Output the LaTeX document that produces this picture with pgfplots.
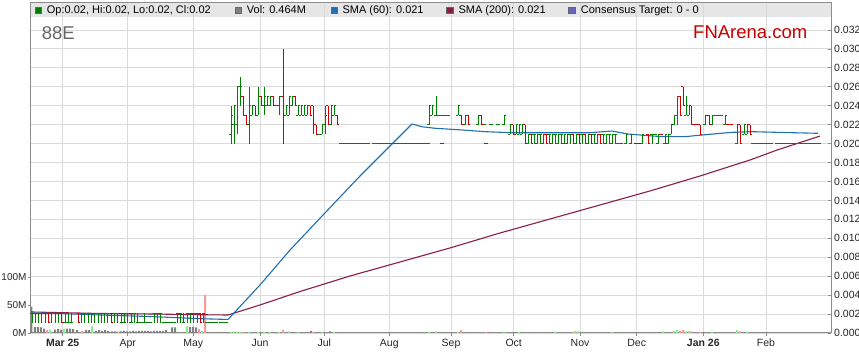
\documentclass[border=0pt]{standalone}
\usepackage{pgfplots}
\pgfplotsset{compat=1.18}
\usepackage{pgfplotstable}
\usepackage{fontspec}
\setmainfont{Liberation Sans}

\definecolor{upc}{HTML}{008000}
\definecolor{dnc}{HTML}{D00000}
\definecolor{smab}{HTML}{1F6FB2}
\definecolor{smam}{HTML}{8A1E40}
\definecolor{volg}{HTML}{808080}
\definecolor{voll}{HTML}{8EE88E}
\definecolor{volp}{HTML}{F59A9A}
\definecolor{gridc}{HTML}{DADADA}
\definecolor{framec}{HTML}{8C8C8C}
\definecolor{bandc}{HTML}{E6E6E6}
\definecolor{fnred}{HTML}{C80000}
\definecolor{titlec}{HTML}{666666}

\pgfdeclareplotmark{tickL}{\pgfpathmoveto{\pgfqpoint{-1.6pt}{0pt}}\pgfpathlineto{\pgfqpoint{0pt}{0pt}}\pgfusepathqstroke}
\pgfdeclareplotmark{tickR}{\pgfpathmoveto{\pgfqpoint{0pt}{0pt}}\pgfpathlineto{\pgfqpoint{1.6pt}{0pt}}\pgfusepathqstroke}
\pgfdeclareplotmark{nomark}{}

% OHLC, green (up) bars
\pgfplotstableread{
x o h l c
32.0 0.0021 0.0021 0.0011 0.0021
35.3 0.0021 0.0021 0.0011 0.0021
38.6 0.0021 0.0021 0.0011 0.0021
41.9 0.0021 0.0021 0.0011 0.0021
45.2 0.0021 0.0021 0.0011 0.0021
51.8 0.0021 0.0021 0.0011 0.0021
55.1 0.0021 0.0021 0.0011 0.0021
58.4 0.0021 0.0021 0.0011 0.0021
65.0 0.0011 0.0021 0.0011 0.0011
68.3 0.0011 0.0021 0.0011 0.0011
71.6 0.0011 0.0021 0.0011 0.0011
81.5 0.0021 0.0021 0.0011 0.0021
84.8 0.0021 0.0021 0.0011 0.0021
88.1 0.0021 0.0021 0.0011 0.0021
91.4 0.0021 0.0021 0.0011 0.0021
94.7 0.0021 0.0021 0.0011 0.0021
98.0 0.0021 0.0021 0.0011 0.0021
101.3 0.0021 0.0021 0.0011 0.0021
104.6 0.0021 0.0021 0.0011 0.0021
107.9 0.0021 0.0021 0.0011 0.0021
114.5 0.0021 0.0021 0.0011 0.0021
117.8 0.0021 0.0021 0.0011 0.0021
121.1 0.0011 0.0021 0.0011 0.0011
124.4 0.0011 0.0021 0.0011 0.0011
127.7 0.0021 0.0021 0.0011 0.0021
131.0 0.0011 0.0021 0.0011 0.0011
134.3 0.0021 0.0021 0.0011 0.0021
137.6 0.0011 0.0021 0.0011 0.0011
140.9 0.0011 0.0011 0.0011 0.0011
144.2 0.0011 0.0021 0.0011 0.0011
147.5 0.0011 0.0011 0.0011 0.0011
150.8 0.0011 0.0011 0.0011 0.0011
154.1 0.0021 0.0021 0.0011 0.0021
157.4 0.0021 0.0021 0.0011 0.0021
160.7 0.0021 0.0021 0.0011 0.0021
164.0 0.0011 0.0011 0.0011 0.0011
167.3 0.0011 0.0011 0.0011 0.0011
170.6 0.0011 0.0011 0.0011 0.0011
173.9 0.0011 0.0011 0.0011 0.0011
177.2 0.0021 0.0021 0.0011 0.0021
180.5 0.0021 0.0021 0.0011 0.0021
183.8 0.0011 0.0021 0.0011 0.0011
187.1 0.0021 0.0021 0.0011 0.0021
190.4 0.0021 0.0021 0.0011 0.0021
193.7 0.0021 0.0021 0.0011 0.0021
197.0 0.0021 0.0021 0.0011 0.0021
203.6 0.0021 0.0021 0.0011 0.0021
206.9 0.0011 0.0011 0.0011 0.0011
210.2 0.0011 0.0011 0.0011 0.0011
213.5 0.0011 0.0011 0.0011 0.0011
216.8 0.0011 0.0011 0.0011 0.0011
220.1 0.0011 0.0011 0.0011 0.0011
223.4 0.0011 0.0011 0.0011 0.0011
226.7 0.0011 0.0011 0.0011 0.0011
231 0.021 0.024 0.020 0.023
234 0.022 0.024 0.020 0.024
237 0.022 0.026 0.021 0.026
240 0.026 0.027 0.024 0.026
249 0.022 0.026 0.020 0.024
252 0.023 0.024 0.023 0.024
258 0.023 0.026 0.023 0.025
264 0.024 0.026 0.023 0.025
267 0.024 0.025 0.024 0.025
270 0.024 0.025 0.024 0.025
279 0.024 0.025 0.023 0.025
286 0.023 0.024 0.023 0.024
289 0.023 0.025 0.023 0.025
292 0.024 0.025 0.024 0.025
298 0.023 0.024 0.023 0.024
301 0.023 0.024 0.023 0.024
304 0.023 0.024 0.023 0.024
307 0.023 0.024 0.023 0.024
319 0.021 0.021 0.021 0.021
322 0.021 0.022 0.021 0.022
325 0.022 0.024 0.021 0.023
331 0.022 0.024 0.022 0.024
334 0.023 0.024 0.023 0.024
341 0.020 0.020 0.020 0.020
344 0.020 0.020 0.020 0.020
347 0.020 0.020 0.020 0.020
350 0.020 0.020 0.020 0.020
353 0.020 0.020 0.020 0.020
356 0.020 0.020 0.020 0.020
359 0.020 0.020 0.020 0.020
362 0.020 0.020 0.020 0.020
365 0.020 0.020 0.020 0.020
368 0.020 0.020 0.020 0.020
374 0.020 0.020 0.020 0.020
377 0.020 0.020 0.020 0.020
380 0.020 0.020 0.020 0.020
383 0.020 0.020 0.020 0.020
386 0.020 0.020 0.020 0.020
389 0.020 0.020 0.020 0.020
392 0.020 0.020 0.020 0.020
395 0.020 0.020 0.020 0.020
398 0.020 0.020 0.020 0.020
401 0.020 0.020 0.020 0.020
404 0.020 0.020 0.020 0.020
407 0.020 0.020 0.020 0.020
410 0.020 0.020 0.020 0.020
413 0.020 0.020 0.020 0.020
416 0.020 0.020 0.020 0.020
419 0.020 0.020 0.020 0.020
422 0.020 0.020 0.020 0.020
425 0.020 0.020 0.020 0.020
428 0.020 0.020 0.020 0.020
429 0.022 0.024 0.022 0.024
432 0.023 0.024 0.023 0.024
436 0.023 0.025 0.023 0.023
439 0.023 0.023 0.023 0.023
442 0.023 0.023 0.023 0.023
445 0.023 0.023 0.023 0.023
448 0.023 0.023 0.023 0.023
458 0.023 0.024 0.023 0.024
465 0.022 0.023 0.022 0.023
478 0.022 0.023 0.022 0.023
484 0.022 0.022 0.022 0.022
491 0.022 0.022 0.022 0.022
498 0.022 0.022 0.022 0.022
504 0.022 0.023 0.022 0.023
510 0.021 0.022 0.021 0.022
516 0.021 0.022 0.021 0.022
519 0.021 0.022 0.021 0.022
522 0.021 0.022 0.021 0.022
528 0.020 0.021 0.020 0.021
534 0.021 0.021 0.020 0.021
537 0.020 0.021 0.020 0.021
540 0.021 0.021 0.020 0.021
543 0.020 0.021 0.020 0.021
549 0.021 0.021 0.020 0.021
552 0.020 0.021 0.020 0.021
555 0.021 0.021 0.020 0.021
558 0.020 0.021 0.020 0.021
561 0.021 0.021 0.020 0.021
564 0.020 0.021 0.020 0.021
567 0.020 0.021 0.020 0.021
570 0.021 0.021 0.020 0.021
576 0.020 0.021 0.020 0.021
582 0.021 0.021 0.020 0.021
588 0.020 0.021 0.020 0.021
594 0.021 0.021 0.020 0.021
597 0.020 0.021 0.020 0.021
603 0.021 0.021 0.020 0.021
606 0.020 0.021 0.020 0.021
609 0.021 0.021 0.020 0.021
612 0.020 0.021 0.020 0.021
615 0.021 0.021 0.020 0.021
618 0.020 0.020 0.020 0.020
621 0.020 0.020 0.020 0.020
626 0.020 0.021 0.020 0.021
631 0.020 0.021 0.020 0.021
642 0.020 0.021 0.020 0.021
652 0.021 0.021 0.020 0.021
655 0.021 0.021 0.021 0.021
658 0.020 0.021 0.020 0.021
665 0.020 0.021 0.020 0.021
668 0.020 0.021 0.020 0.021
671 0.021 0.022 0.021 0.022
674 0.022 0.023 0.022 0.023
677 0.023 0.025 0.022 0.025
686 0.023 0.025 0.023 0.024
689 0.023 0.024 0.023 0.024
705 0.022 0.023 0.022 0.023
712 0.022 0.023 0.022 0.023
715 0.023 0.023 0.023 0.023
718 0.023 0.023 0.023 0.023
721 0.023 0.023 0.023 0.023
725 0.022 0.023 0.022 0.023
737 0.020 0.022 0.020 0.022
744 0.021 0.022 0.021 0.022
747 0.021 0.022 0.021 0.022
753 0.020 0.020 0.020 0.020
756 0.020 0.020 0.020 0.020
759 0.020 0.020 0.020 0.020
762 0.020 0.020 0.020 0.020
765 0.020 0.020 0.020 0.020
768 0.020 0.020 0.020 0.020
771 0.020 0.020 0.020 0.020
777 0.020 0.020 0.020 0.020
780 0.020 0.020 0.020 0.020
783 0.020 0.020 0.020 0.020
786 0.020 0.020 0.020 0.020
789 0.020 0.020 0.020 0.020
792 0.020 0.020 0.020 0.020
795 0.020 0.020 0.020 0.020
801 0.020 0.020 0.020 0.020
804 0.020 0.020 0.020 0.020
807 0.020 0.020 0.020 0.020
810 0.020 0.020 0.020 0.020
813 0.020 0.020 0.020 0.020
816 0.020 0.020 0.020 0.020
819 0.020 0.020 0.020 0.020
}\upbars

% OHLC, red (down) bars
\pgfplotstableread{
x o h l c
48.5 0.0021 0.0021 0.0011 0.0011
61.7 0.0021 0.0021 0.0011 0.0011
78.2 0.0021 0.0021 0.0011 0.0011
111.2 0.0021 0.0021 0.0011 0.0011
200.3 0.0021 0.0021 0.0011 0.0011
243 0.025 0.025 0.023 0.023
246 0.023 0.023 0.022 0.022
255 0.024 0.024 0.023 0.023
261 0.025 0.025 0.024 0.024
273 0.025 0.025 0.024 0.024
276 0.024 0.024 0.024 0.024
283 0.025 0.030 0.020 0.023
295 0.025 0.025 0.024 0.024
310 0.024 0.024 0.023 0.023
313 0.024 0.024 0.021 0.022
316 0.022 0.022 0.021 0.021
328 0.024 0.024 0.022 0.022
337 0.023 0.023 0.022 0.022
442 0.020 0.020 0.020 0.020
461 0.023 0.023 0.022 0.022
468 0.023 0.023 0.022 0.022
481 0.023 0.023 0.022 0.022
486 0.020 0.020 0.020 0.020
513 0.022 0.022 0.021 0.021
525 0.022 0.022 0.020 0.020
531 0.021 0.021 0.020 0.020
546 0.021 0.021 0.020 0.020
573 0.021 0.021 0.020 0.020
579 0.021 0.021 0.020 0.020
585 0.021 0.021 0.020 0.020
591 0.021 0.021 0.020 0.020
600 0.021 0.021 0.020 0.020
636 0.020 0.020 0.020 0.020
639 0.020 0.020 0.020 0.020
648 0.021 0.021 0.020 0.020
661 0.021 0.021 0.021 0.021
680 0.025 0.025 0.023 0.023
683 0.026 0.026 0.024 0.024
691 0.024 0.024 0.022 0.022
694 0.022 0.022 0.022 0.022
697 0.022 0.022 0.022 0.022
700 0.022 0.022 0.021 0.021
709 0.023 0.023 0.022 0.022
728 0.022 0.022 0.022 0.022
731 0.022 0.022 0.022 0.022
740 0.022 0.022 0.020 0.020
750 0.022 0.022 0.021 0.021
}\dnbars

% volume (millions)
\pgfplotstableread{
x v
31.5 47
35 11
38 11
41 10
44 8
55 6
58 7
61 6
67 8
70 8
73 7
77 5
86 5
89 5
96 4
99 5
102 4
105 5
108 4
112 3
115 3
121 3
124 4
127 3
130 3
133 4
136 3
139 4
142 4
145 4
148 4
151 3
154 4
157 4
160 4
163 4
166 5
172 10
175 10
190 11
193 11
196 10
311 4
330 3
}\volgray
\pgfplotstableread{
x v
50 6
64 8
92 12
187 12
202 4
231 2
234 3
237 2
240 1.5
249 2
258 1.5
264 2
270 1.5
279 1.5
289 3
298 1.5
322 1.5
334 1.5
429 2
436 3
458 2
504 1.5
519 1.5
555 2
575 4
578 3
612 1.5
663 3
674 4
677 5
686 3
689 4
712 2
737 5
747 2
}\volgreen
\pgfplotstableread{
x v
47 5
82 4
118 3
199 7
205 68
243 1.5
283 5
313 2
461 5
486 2
573 2
680 4
683 5
691 3
700 2
740 3
}\volpink

% moving averages
\pgfplotstableread{
x y
31 0.00211
60 0.00206
100 0.00190
150 0.00174
200 0.00151
228 0.00143
260 0.00507
290 0.00876
324 0.01257
360 0.01658
390 0.01975
412 0.02207
422 0.02178
435 0.02162
462 0.02144
485 0.02126
512 0.02115
535 0.02115
590 0.02115
612 0.02133
628 0.02101
662 0.02073
685 0.02073
702 0.02091
732 0.02119
752 0.02126
785 0.02117
818 0.02109
}\smasixty
\pgfplotstableread{
x y
31 0.00222
100 0.00206
150 0.00201
200 0.00193
228 0.00190
260 0.00296
300 0.00438
350 0.00602
400 0.00750
450 0.00898
500 0.01056
550 0.01204
600 0.01352
650 0.01500
700 0.01658
750 0.01827
777 0.01932
820 0.02080
}\smatwohundred

\pgfplotsset{
  base/.style={at={(31pt,30pt)}, anchor=south west, scale only axis,
    width=800pt, height=330pt, xmin=31, xmax=831},
  hl/.style={#1, line width=1pt, only marks, mark=nomark,
    error bars/.cd, y dir=plus, y explicit, error mark=none,
    error bar style={draw=#1, line width=1pt}},
}

\begin{document}
\begin{tikzpicture}[x=1pt,y=1pt]
\path[use as bounding box] (0,0) rectangle (859,363);
\fill[bandc] (31,346) rectangle (831,360);

% grid, price ticks, date ticks
\begin{axis}[base, ymin=0, ymax=0.03485,
  scaled y ticks=false, scaled x ticks=false,
  axis line style={framec, line width=1pt},
  grid=major, grid style={gridc, line width=0.9pt},
  xtick={62.7,127.7,193.3,260,324.3,389.3,451,513.7,580,636.7,703.3,766},
  xticklabels={\textbf{Mar 25},Apr,May,Jun,Jul,Aug,Sep,Oct,Nov,Dec,\textbf{Jan 26},Feb},
  ytick={0,0.002,0.004,0.006,0.008,0.010,0.012,0.014,0.016,0.018,0.020,0.022,0.024,0.026,0.028,0.030,0.032},
  yticklabels={0.000,0.002,0.004,0.006,0.008,0.010,0.012,0.014,0.016,0.018,0.020,0.022,0.024,0.026,0.028,0.030,0.032},
  xtick pos=left, ytick pos=right, yticklabel pos=right,
  xtick align=outside, ytick align=inside, major tick length=3pt,
  tick style={framec, line width=0.8pt},
  tick label style={font=\fontsize{10.5}{12}\selectfont, text=black!85},
  yticklabel style={anchor=west, inner sep=0pt, xshift=3pt},
  xticklabel style={anchor=north, inner sep=0pt, yshift=-3pt},
]
\end{axis}

% volume
\begin{axis}[base, ymin=0, ymax=589.3, hide x axis, axis y line*=left,
  scaled y ticks=false,
  axis line style={framec, line width=1pt},
  ytick={0,50,100}, yticklabels={0M,50M,100M},
  ytick align=outside, major tick length=3pt,
  tick style={framec, line width=0.8pt},
  yticklabel style={font=\fontsize{10}{12}\selectfont, text=black!85, anchor=east, inner sep=0pt, xshift=-1.3pt},
]
\addplot[ybar, bar width=2pt, bar shift=0pt, fill=volg, draw=none] table[x=x,y=v]{\volgray};
\addplot[ybar, bar width=2pt, bar shift=0pt, fill=voll, draw=none] table[x=x,y=v]{\volgreen};
\addplot[ybar, bar width=2pt, bar shift=0pt, fill=volp, draw=none] table[x=x,y=v]{\volpink};
\end{axis}

% prices
\begin{axis}[base, ymin=0, ymax=0.03485, hide axis]
\addplot[smam, line width=1.1pt] table[x=x,y=y]{\smatwohundred};
\addplot[smab, line width=1.1pt] table[x=x,y=y]{\smasixty};
\addplot[hl=upc] table[x=x, y=l, y error plus expr=\thisrow{h}-\thisrow{l}]{\upbars};
\addplot[upc, only marks, mark=tickL, line width=1pt] table[x=x,y=o]{\upbars};
\addplot[upc, only marks, mark=tickR, line width=1pt] table[x=x,y=c]{\upbars};
\addplot[hl=dnc] table[x=x, y=l, y error plus expr=\thisrow{h}-\thisrow{l}]{\dnbars};
\addplot[dnc, only marks, mark=tickL, line width=1pt] table[x=x,y=o]{\dnbars};
\addplot[dnc, only marks, mark=tickR, line width=1pt] table[x=x,y=c]{\dnbars};
\end{axis}

% legend strip
\begin{scope}[font=\fontsize{11}{13}\selectfont]
\filldraw[fill=upc, draw=black!60, line width=0.6pt] (35,349.3) rectangle (41.5,355.8);
\node[anchor=base west, inner sep=0pt] at (46.7,349) {Op:0.02, Hi:0.02, Lo:0.02, Cl:0.02};
\filldraw[fill=volg, draw=black!60, line width=0.6pt] (235,349.3) rectangle (241.5,355.8);
\node[anchor=base west, inner sep=0pt] at (246.7,349) {Vol: 0.464M};
\filldraw[fill=smab, draw=black!60, line width=0.6pt] (331,349.3) rectangle (337.5,355.8);
\node[anchor=base west, inner sep=0pt] at (342.3,349) {SMA (60): 0.021};
\filldraw[fill=smam, draw=black!60, line width=0.6pt] (446.7,349.3) rectangle (453.2,355.8);
\node[anchor=base west, inner sep=0pt] at (458.3,349) {SMA (200): 0.021};
\filldraw[fill=black!40!blue!60, draw=black!60, line width=0.6pt] (568.3,349.3) rectangle (574.8,355.8);
\node[anchor=base west, inner sep=0pt] at (580.7,349) {Consensus Target: 0 - 0};
\end{scope}
\node[anchor=base west, inner sep=0pt, text=titlec, font=\fontsize{18.5}{20}\selectfont] at (41.7,323.7) {88E};
\node[anchor=base west, inner sep=0pt, text=fnred, font=\fontsize{18.5}{20}\selectfont] at (693,324.7) {FNArena.com};
\end{tikzpicture}
\end{document}
